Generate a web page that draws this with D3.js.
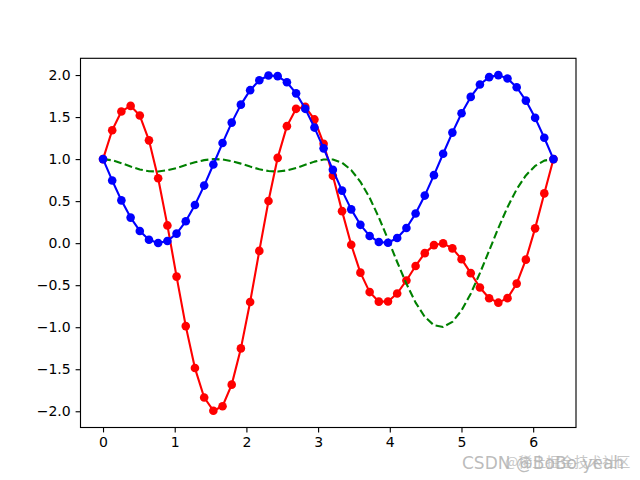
<!DOCTYPE html>
<html><head><meta charset="utf-8">
<script src="https://cdn.jsdelivr.net/npm/d3@7"></script>
<style>body{margin:0;background:#fff}svg{display:block}</style>
</head><body>
<svg id="c" width="640" height="480"></svg>
<script>
const xs = [0,0.128,0.256,0.385,0.513,0.641,0.769,0.898,1.026,1.154,1.282,1.411,1.539,1.667,1.795,1.923,2.052,2.180,2.308,2.436,2.565,2.693,2.821,2.949,3.077,3.206,3.334,3.462,3.590,3.719,3.847,3.975,4.103,4.232,4.360,4.488,4.616,4.744,4.873,5.001,5.129,5.257,5.386,5.514,5.642,5.770,5.898,6.027,6.155,6.283];
const redVals = [1,1.343,1.567,1.633,1.518,1.223,0.772,0.211,-0.398,-0.987,-1.486,-1.836,-1.993,-1.940,-1.683,-1.252,-0.700,-0.092,0.502,1.015,1.392,1.598,1.622,1.472,1.183,0.801,0.381,-0.019,-0.351,-0.582,-0.696,-0.694,-0.599,-0.444,-0.271,-0.119,-0.023,-0.003,-0.062,-0.190,-0.357,-0.527,-0.656,-0.708,-0.654,-0.481,-0.196,0.176,0.592,1];
const greenVals = [1,0.986,0.952,0.912,0.877,0.856,0.853,0.867,0.894,0.929,0.962,0.988,1.000,0.995,0.976,0.946,0.911,0.879,0.858,0.852,0.865,0.893,0.932,0.970,0.996,0.996,0.957,0.870,0.730,0.540,0.307,0.046,-0.224,-0.483,-0.707,-0.877,-0.977,-0.997,-0.937,-0.800,-0.601,-0.357,-0.089,0.179,0.428,0.641,0.806,0.919,0.982,1];
const blueVals = [1,0.746,0.509,0.304,0.145,0.041,0.001,0.025,0.113,0.260,0.454,0.685,0.936,1.191,1.434,1.648,1.820,1.938,1.995,1.987,1.914,1.782,1.598,1.375,1.128,0.872,0.625,0.402,0.218,0.086,0.013,0.005,0.062,0.180,0.352,0.566,0.809,1.064,1.315,1.546,1.740,1.887,1.975,1.999,1.959,1.855,1.696,1.491,1.254,1];
const xTicks = [0,1,2,3,4,5,6];
const yTicks = [-2.0,-1.5,-1.0,-0.5,0.0,0.5,1.0,1.5,2.0];

const svg = d3.select('#c');
const L=80.5, R=576, T=58.3, B=427.5;
const x = d3.scaleLinear().domain([-0.31416, 6.59734]).range([L, R]);
const y = d3.scaleLinear().domain([-2.19305, 2.19915]).range([B, T]);
const font = 'DejaVu Sans, sans-serif';

function series(vals, color, dashed, markers){
  const pts = xs.map((v,i)=>[v, vals[i]]);
  const line = d3.line().x(d=>x(d[0])).y(d=>y(d[1]));
  svg.append('path').attr('d', line(pts)).attr('fill','none').attr('stroke',color)
    .attr('stroke-width',2.1).attr('stroke-linejoin','round').attr('stroke-linecap', dashed?'butt':'square')
    .attr('stroke-dasharray', dashed ? '7.8,3.4' : null);
  if(markers){
    svg.append('g').selectAll('circle').data(pts).join('circle')
      .attr('cx',d=>x(d[0])).attr('cy',d=>y(d[1])).attr('r',4.3).attr('fill',color);
  }
}
series(redVals,'#ff0000',false,true);
series(greenVals,'#008000',true,false);
series(blueVals,'#0000ff',false,true);

const xa = svg.append('g').attr('transform',`translate(0,${B})`)
  .call(d3.axisBottom(x).tickValues(xTicks).tickFormat(d3.format('d')).tickSizeOuter(0).tickSize(4.9).tickPadding(4.9));
const ya = svg.append('g').attr('transform',`translate(${L},0)`)
  .call(d3.axisLeft(y).tickValues(yTicks).tickFormat(d3.format('.1f')).tickSizeOuter(0).tickSize(4.9).tickPadding(4.9));
[xa,ya].forEach(a=>{
  a.select('.domain').remove();
  a.selectAll('line').attr('stroke','#000').attr('stroke-width',1.12);
  a.selectAll('text').attr('font-family',font).attr('font-size','14px').attr('fill','#000');
});
ya.selectAll('text').text(d=>d3.format('.1f')(d).replace('-','\u2212'));
svg.append('rect').attr('x',L).attr('y',T).attr('width',R-L).attr('height',B-T)
  .attr('fill','none').attr('stroke','#000').attr('stroke-width',1.12);

svg.append('text').attr('x',505).attr('y',467).attr('font-family','Noto Sans CJK SC, sans-serif')
  .attr('font-size','14px').attr('fill','#c8c8c8').text('@稀土掘金技术社区');
svg.append('text').attr('x',462).attr('y',469).attr('font-family',font)
  .attr('font-size','17px').attr('fill','#b0b0b0').attr('fill-opacity',0.85).text('CSDN @BoBo yeah');
</script>
</body></html>
